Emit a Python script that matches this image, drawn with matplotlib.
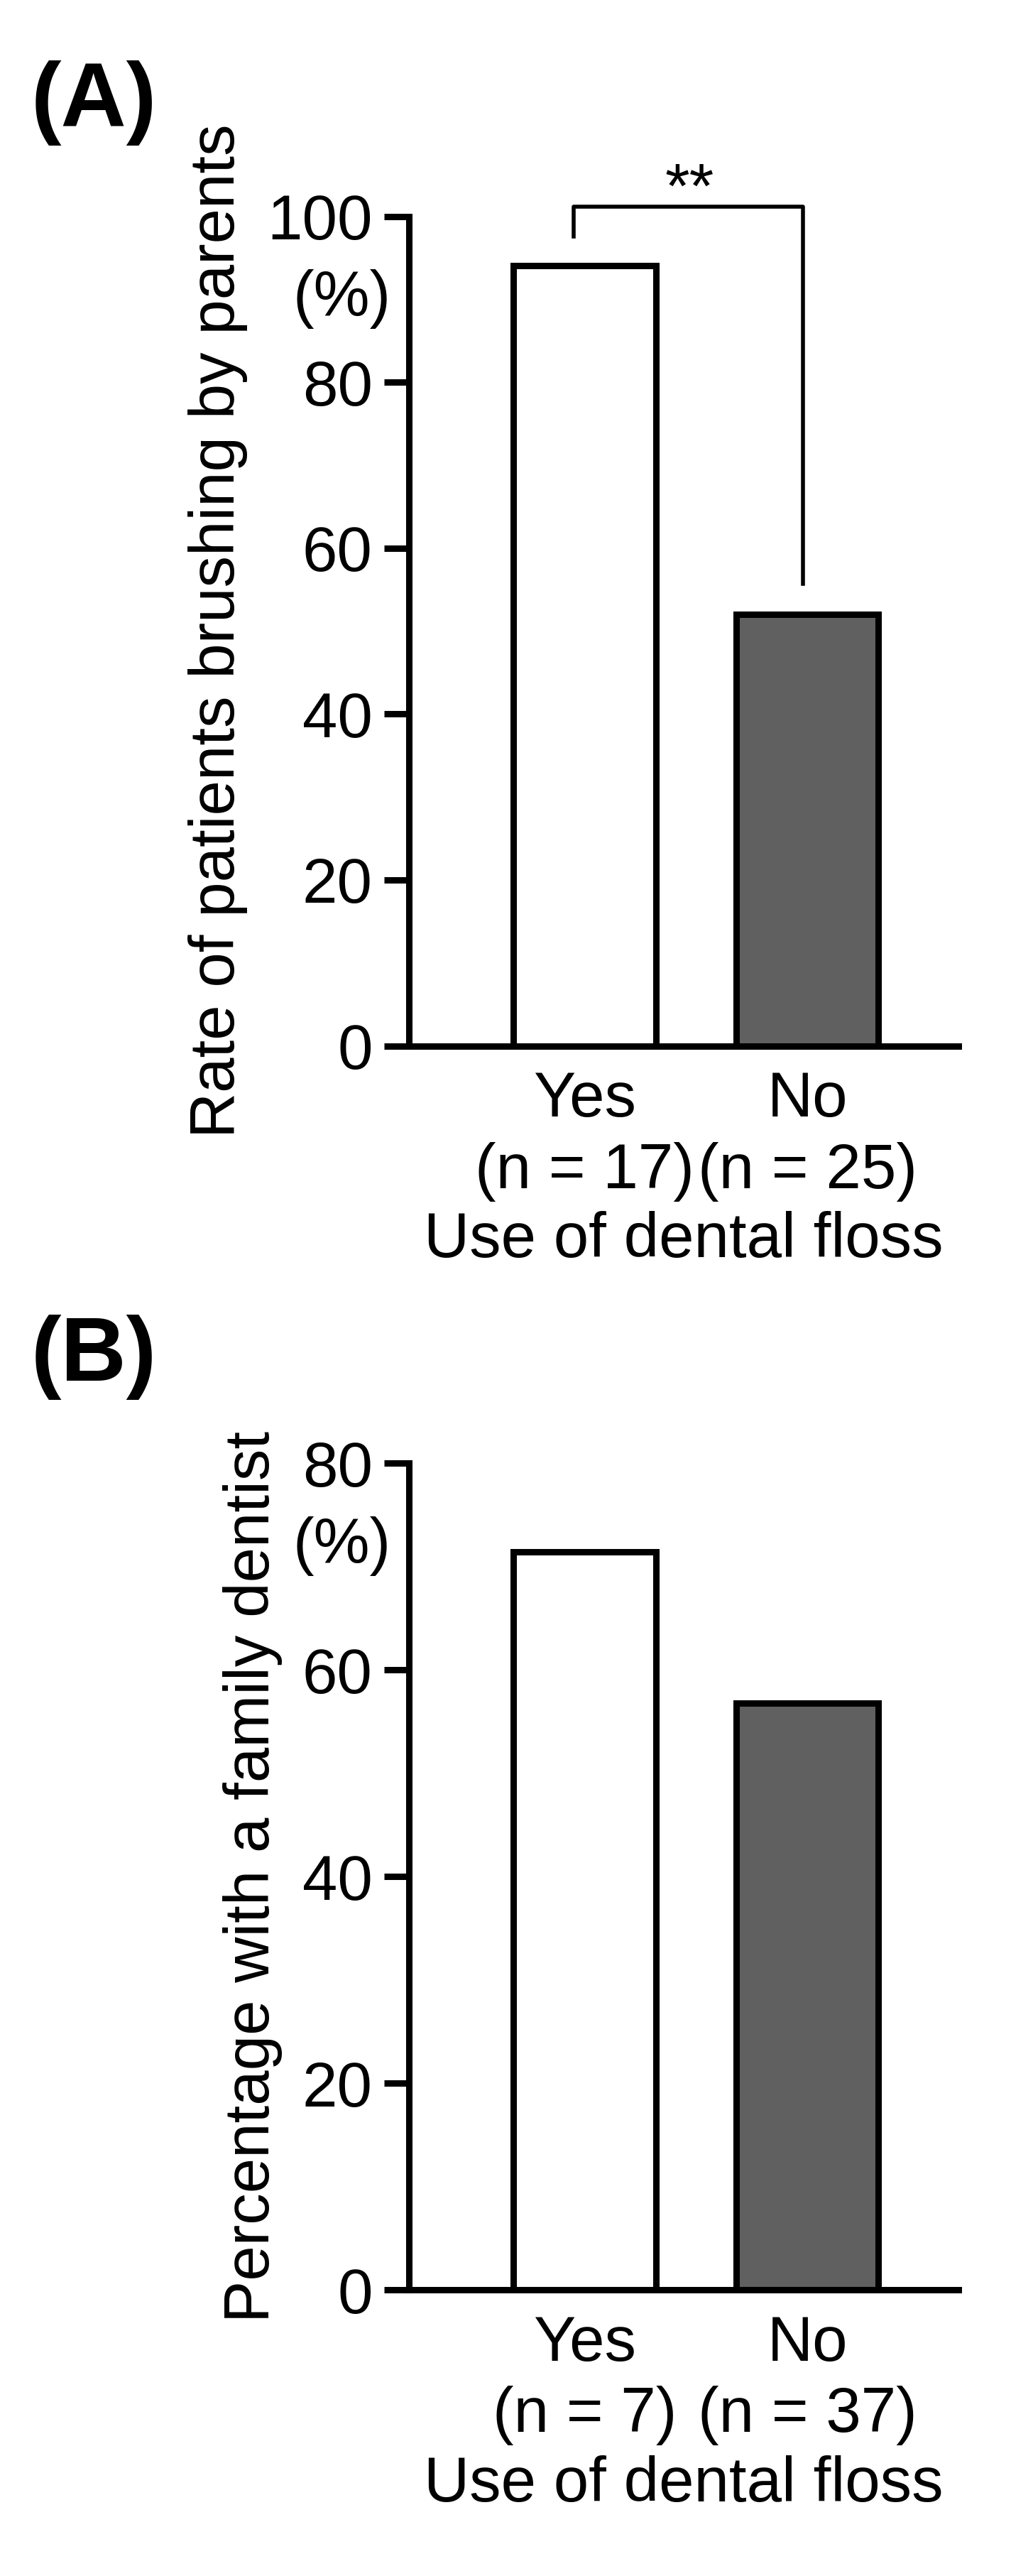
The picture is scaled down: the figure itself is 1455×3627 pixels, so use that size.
import matplotlib
matplotlib.use("Agg")
import matplotlib.pyplot as plt

plt.rcParams['font.family'] = ['Liberation Sans', 'DejaVu Sans']

cats = ["Yes", "No"]
a_vals = [94.1, 52.0]
a_n = [17, 25]
b_vals = [71.4, 56.8]
b_n = [7, 37]
colors = ["white", "#606060"]

fig = plt.figure(figsize=(14.55, 36.27), dpi=100)
lw = 6.5
fs = 64

def panel(rect, vals, ns, ymax, ylabel, letter, letter_y):
    ax = fig.add_axes(rect)
    x = range(len(cats))
    ax.bar(x, vals, width=0.64, color=colors, edgecolor="black", linewidth=lw)
    ax.set_xlim(-0.79, 1.68)
    ax.set_ylim(0, ymax)
    ax.set_yticks(range(0, ymax + 1, 20))
    ax.set_xticks(list(x))
    ax.set_xticklabels([f"{c}\n(n = {n})" for c, n in zip(cats, ns)], fontsize=fs, linespacing=1.25)
    ax.tick_params(axis='y', labelsize=fs, width=lw, length=25, pad=12)
    ax.tick_params(axis='x', width=0, length=0, pad=25)
    for s in ['top', 'right']:
        ax.spines[s].set_visible(False)
    for s in ['left', 'bottom']:
        ax.spines[s].set_linewidth(lw)
    ax.set_xlabel("Use of dental floss", fontsize=fs, labelpad=10)
    ax.set_ylabel(ylabel, fontsize=fs, labelpad=20)
    ax.text(-0.87, ymax * 0.9, "(%)", fontsize=fs, ha='right', va='center')
    fig.text(0.03, letter_y, f"({letter})", fontsize=92, fontweight='bold',
             ha='left', va='center')
    return ax

ax1 = panel([0.396, 0.594, 0.532, 0.322], a_vals, a_n, 100,
            "Rate of patients brushing by parents", "A", 0.960)
# significance bracket
ax1.plot([-0.05, -0.05, 0.98, 0.98], [97.6, 101.2, 101.2, 55.7], color='black',
         linewidth=4, clip_on=False)
ax1.text(0.47, 99.5, "**", fontsize=fs, ha='center', va='bottom')

ax2 = panel([0.396, 0.111, 0.532, 0.321], b_vals, b_n, 80,
            "Percentage with a family dentist", "B", 0.473)

fig.savefig("out.png", dpi=100)
